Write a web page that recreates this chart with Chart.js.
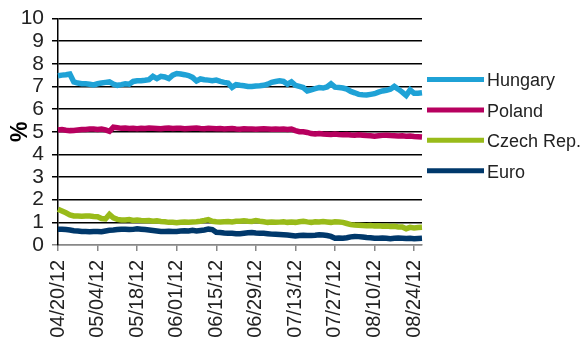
<!DOCTYPE html>
<html>
<head>
<meta charset="utf-8">
<script src="https://cdn.jsdelivr.net/npm/chart.js@4.4.1/dist/chart.umd.min.js"></script>
<style>
  body { margin: 0; background: #fff; }
  #wrap { width: 583px; height: 349px; position: relative; }
</style>
</head>
<body>
<div id="wrap"><canvas id="chart"></canvas></div>
<script>
// business days, 04/20/12 .. 08/28/12
const dates = [
  '04/20/12','04/23/12','04/24/12','04/25/12','04/26/12','04/27/12','04/30/12',
  '05/01/12','05/02/12','05/03/12','05/04/12','05/07/12','05/08/12','05/09/12','05/10/12','05/11/12',
  '05/14/12','05/15/12','05/16/12','05/17/12','05/18/12','05/21/12','05/22/12','05/23/12','05/24/12','05/25/12',
  '05/28/12','05/29/12','05/30/12','05/31/12','06/01/12','06/04/12','06/05/12','06/06/12','06/07/12','06/08/12',
  '06/11/12','06/12/12','06/13/12','06/14/12','06/15/12','06/18/12','06/19/12','06/20/12','06/21/12','06/22/12',
  '06/25/12','06/26/12','06/27/12','06/28/12','06/29/12','07/02/12','07/03/12','07/04/12','07/05/12','07/06/12',
  '07/09/12','07/10/12','07/11/12','07/12/12','07/13/12','07/16/12','07/17/12','07/18/12','07/19/12','07/20/12',
  '07/23/12','07/24/12','07/25/12','07/26/12','07/27/12','07/30/12','07/31/12','08/01/12','08/02/12','08/03/12',
  '08/06/12','08/07/12','08/08/12','08/09/12','08/10/12','08/13/12','08/14/12','08/15/12','08/16/12','08/17/12',
  '08/20/12','08/21/12','08/22/12','08/23/12','08/24/12','08/27/12','08/28/12'
];

const hungary = [
  7.47,7.50,7.52,7.55,7.20,7.15,7.12,7.12,7.10,7.07,
  7.12,7.15,7.18,7.20,7.10,7.05,7.08,7.12,7.10,7.22,
  7.25,7.25,7.27,7.30,7.45,7.35,7.45,7.42,7.35,7.50,
  7.57,7.55,7.52,7.48,7.40,7.24,7.33,7.30,7.28,7.25,
  7.28,7.22,7.18,7.15,6.96,7.08,7.05,7.03,7.00,7.00,
  7.02,7.03,7.05,7.10,7.18,7.22,7.25,7.22,7.10,7.20,
  7.05,7.00,6.95,6.80,6.85,6.90,6.95,6.93,6.98,7.12,
  6.97,6.95,6.93,6.88,6.78,6.72,6.65,6.63,6.62,6.65,
  6.68,6.75,6.80,6.83,6.88,7.00,6.88,6.75,6.60,6.85,
  6.70,6.70,6.72
];

const poland = [
  5.08,5.10,5.07,5.05,5.06,5.08,5.10,5.10,5.12,5.12,
  5.10,5.12,5.08,5.02,5.20,5.18,5.15,5.16,5.14,5.15,
  5.13,5.15,5.14,5.16,5.15,5.14,5.13,5.15,5.16,5.14,
  5.15,5.15,5.13,5.14,5.15,5.16,5.14,5.13,5.15,5.14,
  5.13,5.14,5.12,5.13,5.14,5.12,5.11,5.13,5.12,5.12,
  5.11,5.12,5.13,5.12,5.11,5.12,5.11,5.12,5.10,5.12,
  5.05,5.00,5.00,4.97,4.92,4.90,4.92,4.90,4.89,4.88,
  4.90,4.88,4.87,4.88,4.86,4.85,4.87,4.85,4.83,4.82,
  4.80,4.82,4.84,4.85,4.83,4.82,4.81,4.82,4.80,4.81,
  4.79,4.78,4.77
];

const czech = [
  1.58,1.50,1.42,1.33,1.28,1.28,1.27,1.28,1.28,1.26,
  1.25,1.17,1.15,1.35,1.20,1.13,1.10,1.10,1.12,1.08,
  1.10,1.08,1.07,1.08,1.05,1.07,1.04,1.03,1.00,1.00,
  0.98,1.00,1.02,1.00,1.02,1.03,1.05,1.08,1.12,1.05,
  1.03,1.02,1.03,1.04,1.02,1.05,1.05,1.07,1.05,1.04,
  1.08,1.05,1.03,1.00,1.02,1.00,1.01,1.03,1.00,1.02,
  1.00,1.03,1.05,1.02,1.00,1.03,1.02,1.04,1.02,1.00,
  1.03,1.02,1.00,0.95,0.90,0.88,0.87,0.86,0.85,0.86,
  0.84,0.85,0.83,0.84,0.82,0.83,0.80,0.80,0.72,0.78,
  0.75,0.77,0.78
];

const euro = [
  0.70,0.70,0.68,0.66,0.63,0.62,0.60,0.60,0.59,0.60,
  0.60,0.59,0.62,0.65,0.66,0.68,0.70,0.70,0.68,0.69,
  0.72,0.70,0.68,0.66,0.64,0.62,0.60,0.60,0.61,0.60,
  0.60,0.62,0.63,0.62,0.65,0.62,0.64,0.66,0.70,0.68,
  0.56,0.55,0.53,0.52,0.52,0.50,0.50,0.52,0.54,0.55,
  0.53,0.52,0.52,0.50,0.48,0.47,0.46,0.45,0.44,0.42,
  0.40,0.42,0.43,0.42,0.42,0.43,0.45,0.44,0.42,0.38,
  0.30,0.31,0.30,0.32,0.36,0.38,0.37,0.35,0.33,0.32,
  0.30,0.30,0.31,0.30,0.28,0.30,0.31,0.30,0.29,0.30,
  0.28,0.29,0.30
];

const seriesNames = ['Hungary', 'Poland', 'Czech Rep.', 'Euro'];
const seriesColors = ['#1fa2d6', '#b7005f', '#99bb1a', '#00386b'];
const seriesData = [hungary, poland, czech, euro];

const font = "'Liberation Sans', Arial, sans-serif";

// legend drawn to the right of the plot, like the Excel original
const sideLegend = {
  id: 'sideLegend',
  afterDraw(chart) {
    const c = chart.ctx;
    const area = chart.chartArea;
    c.save();
    c.font = '18px ' + font;
    c.textBaseline = 'middle';
    c.fillStyle = '#222';
    chart.data.datasets.forEach((ds, i) => {
      const y = area.top + 61 + i * 30.4;
      c.strokeStyle = ds.borderColor;
      c.lineWidth = 5;
      c.beginPath();
      c.moveTo(area.right + 5, y);
      c.lineTo(area.right + 62, y);
      c.stroke();
      c.fillText(ds.label, area.right + 65, y + 2);
    });
    c.restore();
  }
};

const ctx = document.getElementById('chart').getContext('2d');
new Chart(ctx, {
  type: 'line',
  data: {
    labels: dates,
    datasets: seriesNames.map((name, i) => ({
      label: name,
      data: seriesData[i],
      borderColor: seriesColors[i],
      backgroundColor: seriesColors[i],
      borderWidth: 5.5,
      pointRadius: 0,
      tension: 0,
      fill: false,
    }))
  },
  plugins: [sideLegend],
  options: {
    responsive: true,
    maintainAspectRatio: false,
    animation: false,
    layout: { padding: { left: 7, top: 12, right: 161, bottom: 0 } },
    plugins: {
      tooltip: { enabled: false },
      legend: { display: false }
    },
    scales: {
      x: {
        offset: false,
        afterBuildTicks: (scale) => {
          scale.ticks = scale.ticks.filter(t => t.value % 10 === 0);
        },
        afterFit: (scale) => { scale.height = 104; },
        grid: {
          drawOnChartArea: false,
          drawTicks: true,
          tickLength: 6,
          color: '#888',
          lineWidth: 1.5,
        },
        border: { color: '#888', width: 1.5 },
        ticks: {
          autoSkip: false,
          maxRotation: 90,
          minRotation: 90,
          padding: 9,
          color: '#222',
          font: { family: font, size: 20 },
        }
      },
      y: {
        min: 0,
        max: 10,
        afterFit: (scale) => { scale.width = 51; },
        grid: {
          color: (c) => c.tick && c.tick.value === 0 ? '#888' : '#000',
          lineWidth: 1.5,
          tickLength: 6,
        },
        border: { color: '#000', width: 1.5 },
        ticks: {
          stepSize: 1,
          autoSkip: false,
          padding: 8,
          color: '#222',
          font: { family: font, size: 21, lineHeight: 1 },
        },
        title: {
          display: true,
          text: '%',
          color: '#000',
          padding: 0,
          font: { family: font, size: 23, weight: 'bold' },
        }
      }
    }
  }
});
</script>
</body>
</html>
